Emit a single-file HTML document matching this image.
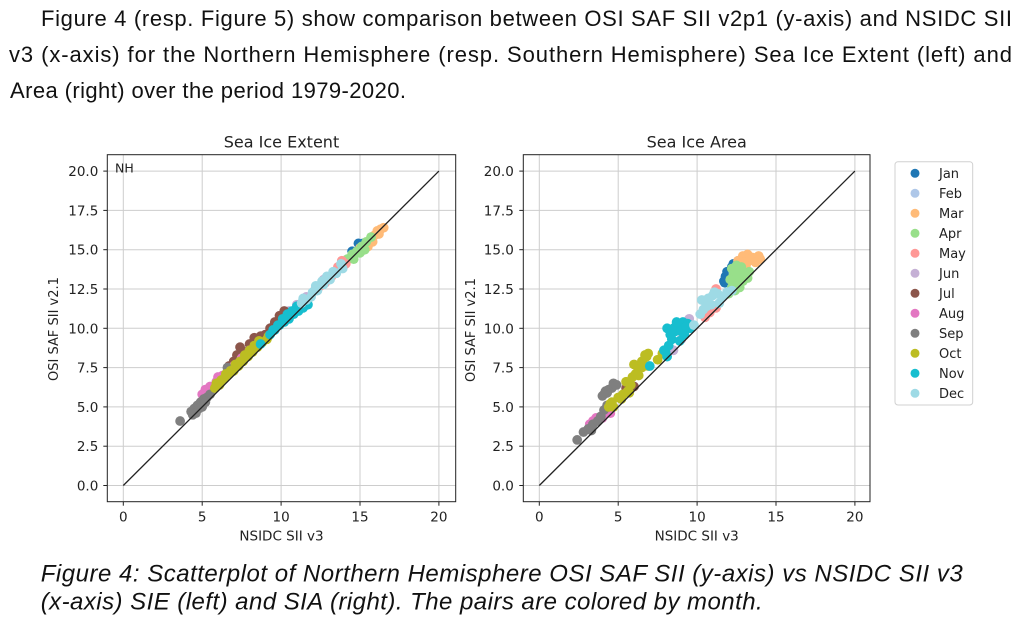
<!DOCTYPE html>
<html><head><meta charset="utf-8"><style>
html,body{margin:0;padding:0;background:#fff;}
svg{display:block;}
.p{font-family:"Liberation Sans",Arial,sans-serif;font-size:22px;fill:#111;}
.c{font-family:"Liberation Sans",Arial,sans-serif;font-size:24px;font-style:italic;fill:#111;}
.t{font-family:"DejaVu Sans",sans-serif;font-size:13.5px;fill:#222;}
.ti{font-family:"DejaVu Sans",sans-serif;font-size:16px;fill:#222;}
.lg{font-family:"DejaVu Sans",sans-serif;font-size:13px;fill:#222;}
.g line{stroke:#cdcdcd;stroke-width:1;}
.tk line{stroke:#222;stroke-width:1;}
circle{r:0.31px;}
</style></head><body>
<svg width="1022" height="621" viewBox="0 0 1022 621" xmlns="http://www.w3.org/2000/svg">
<rect width="1022" height="621" fill="#fff"/>
<text class="p" x="41" y="26" textLength="971">Figure 4 (resp. Figure 5) show comparison between OSI SAF SII v2p1 (y-axis) and NSIDC SII</text>
<text class="p" x="9" y="62" textLength="1003">v3 (x-axis) for the Northern Hemisphere (resp. Southern Hemisphere) Sea Ice Extent (left) and</text>
<text class="p" x="10" y="98" textLength="396">Area (right) over the period 1979-2020.</text>

<!-- ===== LEFT AXES ===== -->
<g class="g">
<line x1="123.3" y1="154.7" x2="123.3" y2="501.7"/><line x1="202.2" y1="154.7" x2="202.2" y2="501.7"/><line x1="281.1" y1="154.7" x2="281.1" y2="501.7"/><line x1="360" y1="154.7" x2="360" y2="501.7"/><line x1="438.9" y1="154.7" x2="438.9" y2="501.7"/>
<line x1="107.3" y1="485.5" x2="455.7" y2="485.5"/><line x1="107.3" y1="446.2" x2="455.7" y2="446.2"/><line x1="107.3" y1="406.9" x2="455.7" y2="406.9"/><line x1="107.3" y1="367.6" x2="455.7" y2="367.6"/><line x1="107.3" y1="328.3" x2="455.7" y2="328.3"/><line x1="107.3" y1="289" x2="455.7" y2="289"/><line x1="107.3" y1="249.7" x2="455.7" y2="249.7"/><line x1="107.3" y1="210.4" x2="455.7" y2="210.4"/><line x1="107.3" y1="171.1" x2="455.7" y2="171.1"/>
</g>
<g transform="matrix(15.78,0,0,-15.72,123.3,485.5)">
<g fill="#1f77b4"><circle cx="14.5" cy="14.9" r="0.31"/><circle cx="14.9" cy="15.4" r="0.31"/><circle cx="15.2" cy="15.4" r="0.31"/></g>
<g fill="#aec7e8"><circle cx="14.1" cy="14.3" r="0.31"/><circle cx="14.6" cy="14.6" r="0.31"/><circle cx="15" cy="15" r="0.31"/></g>
<g fill="#ffbb78"><circle cx="15" cy="15.1" r="0.31"/><circle cx="15.3" cy="15.3" r="0.31"/><circle cx="15.6" cy="15.6" r="0.31"/><circle cx="15.9" cy="15.9" r="0.31"/><circle cx="16.1" cy="16.2" r="0.31"/><circle cx="16.3" cy="16.3" r="0.31"/><circle cx="16.5" cy="16.4" r="0.31"/><circle cx="15.8" cy="15.5" r="0.31"/><circle cx="16.2" cy="16" r="0.31"/><circle cx="15.5" cy="15.2" r="0.31"/></g>
<g fill="#98df8a"><circle cx="14.2" cy="14.4" r="0.31"/><circle cx="14.5" cy="14.7" r="0.31"/><circle cx="14.8" cy="14.9" r="0.31"/><circle cx="15.1" cy="15.2" r="0.31"/><circle cx="15.4" cy="15.5" r="0.31"/><circle cx="15.7" cy="15.8" r="0.31"/><circle cx="15" cy="14.8" r="0.31"/><circle cx="15.3" cy="15" r="0.31"/><circle cx="14.6" cy="14.4" r="0.31"/></g>
<g fill="#ff9896"><circle cx="12.5" cy="12.7" r="0.31"/><circle cx="12.8" cy="12.9" r="0.31"/><circle cx="13.2" cy="13.3" r="0.31"/><circle cx="13.6" cy="13.9" r="0.31"/><circle cx="13.85" cy="14.3" r="0.31"/><circle cx="14.1" cy="14.1" r="0.31"/></g>
<g fill="#c5b0d5"><circle cx="10.5" cy="11.1" r="0.31"/><circle cx="11" cy="11.5" r="0.31"/><circle cx="11.6" cy="12" r="0.31"/><circle cx="12.2" cy="12.6" r="0.31"/><circle cx="12.7" cy="13.1" r="0.31"/></g>
<g fill="#8c564b"><circle cx="6.7" cy="7.6" r="0.31"/><circle cx="7" cy="7.9" r="0.31"/><circle cx="7.4" cy="8.8" r="0.31"/><circle cx="7.7" cy="8.5" r="0.31"/><circle cx="8" cy="9" r="0.31"/><circle cx="8.3" cy="9.4" r="0.31"/><circle cx="8.7" cy="9.5" r="0.31"/><circle cx="9" cy="9.6" r="0.31"/><circle cx="9.3" cy="10" r="0.31"/><circle cx="9.6" cy="10.4" r="0.31"/><circle cx="9.9" cy="10.8" r="0.31"/><circle cx="10.2" cy="11.1" r="0.31"/><circle cx="10.5" cy="11" r="0.31"/><circle cx="7.2" cy="8.3" r="0.31"/><circle cx="8.5" cy="9.2" r="0.31"/><circle cx="9.5" cy="10.1" r="0.31"/><circle cx="10" cy="10.5" r="0.31"/></g>
<g fill="#e377c2"><circle cx="5.2" cy="6.1" r="0.31"/><circle cx="5.5" cy="6.3" r="0.31"/><circle cx="5.9" cy="6.6" r="0.31"/><circle cx="6.3" cy="7" r="0.31"/><circle cx="6.7" cy="7.4" r="0.31"/><circle cx="7" cy="7.6" r="0.31"/><circle cx="7.5" cy="8.1" r="0.31"/><circle cx="8" cy="8.6" r="0.31"/><circle cx="5" cy="5.8" r="0.31"/><circle cx="6" cy="6.9" r="0.31"/></g>
<g fill="#7f7f7f"><circle cx="3.6" cy="4.1" r="0.31"/><circle cx="4.3" cy="4.7" r="0.31"/><circle cx="4.5" cy="4.9" r="0.31"/><circle cx="4.6" cy="4.6" r="0.31"/><circle cx="4.7" cy="5.1" r="0.31"/><circle cx="4.9" cy="5.3" r="0.31"/><circle cx="5" cy="5" r="0.31"/><circle cx="5.1" cy="5.5" r="0.31"/><circle cx="5.3" cy="5.6" r="0.31"/><circle cx="5.5" cy="5.8" r="0.31"/><circle cx="6.6" cy="7.5" r="0.31"/><circle cx="4.4" cy="4.5" r="0.31"/><circle cx="4.8" cy="4.9" r="0.31"/><circle cx="5.2" cy="5.3" r="0.31"/></g>
<g fill="#bcbd22"><circle cx="5.8" cy="6.2" r="0.31"/><circle cx="6.1" cy="6.4" r="0.31"/><circle cx="6.4" cy="6.8" r="0.31"/><circle cx="6.7" cy="7.1" r="0.31"/><circle cx="7" cy="7.3" r="0.31"/><circle cx="7.3" cy="7.6" r="0.31"/><circle cx="7.6" cy="7.9" r="0.31"/><circle cx="7.9" cy="8.2" r="0.31"/><circle cx="8.2" cy="8.5" r="0.31"/><circle cx="8.5" cy="8.8" r="0.31"/><circle cx="8.8" cy="9.1" r="0.31"/><circle cx="9.1" cy="9.3" r="0.31"/><circle cx="9.2" cy="9.5" r="0.31"/><circle cx="6.2" cy="6.7" r="0.31"/><circle cx="6.8" cy="7.3" r="0.31"/><circle cx="7.4" cy="7.9" r="0.31"/><circle cx="8" cy="8.6" r="0.31"/><circle cx="8.6" cy="9.2" r="0.31"/><circle cx="5.9" cy="6.5" r="0.31"/><circle cx="6.5" cy="7.1" r="0.31"/><circle cx="7.1" cy="7.7" r="0.31"/><circle cx="7.7" cy="8.3" r="0.31"/><circle cx="8.3" cy="8.9" r="0.31"/></g>
<g fill="#17becf"><circle cx="8.7" cy="9" r="0.31"/><circle cx="9.3" cy="9.6" r="0.31"/><circle cx="9.6" cy="9.9" r="0.31"/><circle cx="9.9" cy="10.2" r="0.31"/><circle cx="10.2" cy="10.4" r="0.31"/><circle cx="10.5" cy="10.6" r="0.31"/><circle cx="10.8" cy="10.9" r="0.31"/><circle cx="11.1" cy="11.1" r="0.31"/><circle cx="11.4" cy="11.3" r="0.31"/><circle cx="11.7" cy="11.5" r="0.31"/><circle cx="9.8" cy="10.2" r="0.31"/><circle cx="10.4" cy="10.9" r="0.31"/><circle cx="11" cy="11.4" r="0.31"/><circle cx="9.5" cy="9.9" r="0.31"/><circle cx="10.1" cy="10.6" r="0.31"/><circle cx="10.7" cy="11.1" r="0.31"/><circle cx="11.3" cy="11.6" r="0.31"/></g>
<g fill="#9edae5"><circle cx="11.3" cy="11.6" r="0.31"/><circle cx="11.6" cy="11.8" r="0.31"/><circle cx="11.9" cy="12" r="0.31"/><circle cx="12.3" cy="12.4" r="0.31"/><circle cx="12.7" cy="12.8" r="0.31"/><circle cx="13.1" cy="13.1" r="0.31"/><circle cx="13.5" cy="13.5" r="0.31"/><circle cx="13.9" cy="13.8" r="0.31"/><circle cx="12" cy="12.3" r="0.31"/><circle cx="12.6" cy="13" r="0.31"/><circle cx="13.3" cy="13.6" r="0.31"/><circle cx="13.8" cy="14.1" r="0.31"/><circle cx="11.4" cy="11.9" r="0.31"/><circle cx="12.2" cy="12.7" r="0.31"/><circle cx="12.9" cy="13.3" r="0.31"/></g>
<line x1="0" y1="0" x2="20" y2="20" stroke="#222" stroke-width="1.3" vector-effect="non-scaling-stroke"/>
</g>
<rect x="107.3" y="154.7" width="348.4" height="347" fill="none" stroke="#222" stroke-width="1"/>
<g class="tk">
<line x1="123.3" y1="501.7" x2="123.3" y2="505.7"/><line x1="202.2" y1="501.7" x2="202.2" y2="505.7"/><line x1="281.1" y1="501.7" x2="281.1" y2="505.7"/><line x1="360" y1="501.7" x2="360" y2="505.7"/><line x1="438.9" y1="501.7" x2="438.9" y2="505.7"/>
<line x1="103.3" y1="485.5" x2="107.3" y2="485.5"/><line x1="103.3" y1="446.2" x2="107.3" y2="446.2"/><line x1="103.3" y1="406.9" x2="107.3" y2="406.9"/><line x1="103.3" y1="367.6" x2="107.3" y2="367.6"/><line x1="103.3" y1="328.3" x2="107.3" y2="328.3"/><line x1="103.3" y1="289" x2="107.3" y2="289"/><line x1="103.3" y1="249.7" x2="107.3" y2="249.7"/><line x1="103.3" y1="210.4" x2="107.3" y2="210.4"/><line x1="103.3" y1="171.1" x2="107.3" y2="171.1"/>
</g>
<g class="t" text-anchor="end">
<text x="98.3" y="490.5">0.0</text><text x="98.3" y="451.2">2.5</text><text x="98.3" y="411.9">5.0</text><text x="98.3" y="372.6">7.5</text><text x="98.3" y="333.3">10.0</text><text x="98.3" y="294">12.5</text><text x="98.3" y="254.7">15.0</text><text x="98.3" y="215.4">17.5</text><text x="98.3" y="176.1">20.0</text>
</g>
<g class="t" text-anchor="middle">
<text x="123.3" y="521.7">0</text><text x="202.2" y="521.7">5</text><text x="281.1" y="521.7">10</text><text x="360" y="521.7">15</text><text x="438.9" y="521.7">20</text>
<text x="281.5" y="540.5">NSIDC SII v3</text>
</g>
<text class="t" transform="translate(58,329) rotate(-90)" text-anchor="middle" style="font-size:13px">OSI SAF SII v2.1</text>
<text class="ti" x="281.5" y="147.3" text-anchor="middle">Sea Ice Extent</text>
<text class="t" x="115" y="172.3" style="font-size:12.5px">NH</text>

<!-- ===== RIGHT AXES ===== -->
<g class="g">
<line x1="539.3" y1="154.7" x2="539.3" y2="501.7"/><line x1="618.2" y1="154.7" x2="618.2" y2="501.7"/><line x1="697.1" y1="154.7" x2="697.1" y2="501.7"/><line x1="776" y1="154.7" x2="776" y2="501.7"/><line x1="854.9" y1="154.7" x2="854.9" y2="501.7"/>
<line x1="523.3" y1="485.5" x2="870" y2="485.5"/><line x1="523.3" y1="446.2" x2="870" y2="446.2"/><line x1="523.3" y1="406.9" x2="870" y2="406.9"/><line x1="523.3" y1="367.6" x2="870" y2="367.6"/><line x1="523.3" y1="328.3" x2="870" y2="328.3"/><line x1="523.3" y1="289" x2="870" y2="289"/><line x1="523.3" y1="249.7" x2="870" y2="249.7"/><line x1="523.3" y1="210.4" x2="870" y2="210.4"/><line x1="523.3" y1="171.1" x2="870" y2="171.1"/>
</g>
<g transform="matrix(15.78,0,0,-15.72,539.3,485.5)">
<g fill="#1f77b4"><circle cx="11.7" cy="13" r="0.31"/><circle cx="11.8" cy="13.3" r="0.31"/><circle cx="11.9" cy="13.6" r="0.31"/><circle cx="12" cy="13.1" r="0.31"/><circle cx="12.2" cy="13.9" r="0.31"/><circle cx="12.3" cy="14.1" r="0.31"/><circle cx="11.75" cy="12.9" r="0.31"/></g>
<g fill="#aec7e8"><circle cx="12.6" cy="14.3" r="0.31"/><circle cx="13" cy="14.5" r="0.31"/><circle cx="12.3" cy="13.6" r="0.31"/></g>
<g fill="#ffbb78"><circle cx="12.6" cy="14.3" r="0.31"/><circle cx="12.9" cy="14.6" r="0.31"/><circle cx="13.2" cy="14.7" r="0.31"/><circle cx="13.5" cy="14.5" r="0.31"/><circle cx="13.9" cy="14.6" r="0.31"/><circle cx="14" cy="14.4" r="0.31"/><circle cx="13.3" cy="14.3" r="0.31"/><circle cx="12.9" cy="14.2" r="0.31"/><circle cx="13.1" cy="14" r="0.31"/><circle cx="13.7" cy="14.2" r="0.31"/></g>
<g fill="#98df8a"><circle cx="12.2" cy="13.8" r="0.31"/><circle cx="12.5" cy="14" r="0.31"/><circle cx="12.8" cy="13.9" r="0.31"/><circle cx="12.3" cy="13.4" r="0.31"/><circle cx="12.6" cy="13.2" r="0.31"/><circle cx="13" cy="13.5" r="0.31"/><circle cx="12.4" cy="12.8" r="0.31"/><circle cx="12.7" cy="12.6" r="0.31"/><circle cx="12.4" cy="12.4" r="0.31"/><circle cx="13.2" cy="13.2" r="0.31"/><circle cx="12.9" cy="13" r="0.31"/><circle cx="12.1" cy="13.1" r="0.31"/><circle cx="12.6" cy="13.7" r="0.31"/><circle cx="13.3" cy="13.6" r="0.31"/><circle cx="12.2" cy="12.6" r="0.31"/><circle cx="12" cy="12.2" r="0.31"/></g>
<g fill="#ff9896"><circle cx="11.2" cy="12.5" r="0.31"/><circle cx="10.8" cy="11" r="0.31"/><circle cx="11.2" cy="11.3" r="0.31"/><circle cx="10.5" cy="10.7" r="0.31"/></g>
<g fill="#c5b0d5"><circle cx="9.5" cy="10.6" r="0.31"/><circle cx="8.5" cy="8.6" r="0.31"/><circle cx="9" cy="9.3" r="0.31"/></g>
<g fill="#8c564b"><circle cx="5.5" cy="6.2" r="0.31"/><circle cx="6" cy="6.3" r="0.31"/><circle cx="6.5" cy="7.8" r="0.31"/></g>
<g fill="#e377c2"><circle cx="3.2" cy="3.9" r="0.31"/><circle cx="3.6" cy="4.3" r="0.31"/><circle cx="4" cy="4.3" r="0.31"/><circle cx="4.5" cy="4.6" r="0.31"/><circle cx="3.4" cy="4.1" r="0.31"/></g>
<g fill="#7f7f7f"><circle cx="2.4" cy="2.9" r="0.31"/><circle cx="2.8" cy="3.4" r="0.31"/><circle cx="3.1" cy="3.6" r="0.31"/><circle cx="3.4" cy="3.9" r="0.31"/><circle cx="3.7" cy="4.1" r="0.31"/><circle cx="3.9" cy="4.4" r="0.31"/><circle cx="4.1" cy="4.8" r="0.31"/><circle cx="4.3" cy="5.1" r="0.31"/><circle cx="4" cy="5.7" r="0.31"/><circle cx="4.2" cy="6" r="0.31"/><circle cx="4.4" cy="6.1" r="0.31"/><circle cx="4.6" cy="6.2" r="0.31"/><circle cx="4.7" cy="6.5" r="0.31"/><circle cx="4.9" cy="6.4" r="0.31"/><circle cx="4.3" cy="5.9" r="0.31"/><circle cx="4.1" cy="5.8" r="0.31"/><circle cx="3.3" cy="3.5" r="0.31"/></g>
<g fill="#bcbd22"><circle cx="4.4" cy="5" r="0.31"/><circle cx="4.7" cy="5" r="0.31"/><circle cx="4.5" cy="5.2" r="0.31"/><circle cx="5" cy="5.6" r="0.31"/><circle cx="5.3" cy="5.8" r="0.31"/><circle cx="5.6" cy="6" r="0.31"/><circle cx="5.8" cy="6.4" r="0.31"/><circle cx="5.9" cy="6.9" r="0.31"/><circle cx="6.1" cy="7.1" r="0.31"/><circle cx="6.2" cy="7.6" r="0.31"/><circle cx="6" cy="7.7" r="0.31"/><circle cx="6.5" cy="7.9" r="0.31"/><circle cx="6.8" cy="8.2" r="0.31"/><circle cx="6.9" cy="8.4" r="0.31"/><circle cx="6.5" cy="7.5" r="0.31"/><circle cx="6.9" cy="7.6" r="0.31"/><circle cx="7.5" cy="8" r="0.31"/><circle cx="7.8" cy="8.4" r="0.31"/><circle cx="5.5" cy="6.6" r="0.31"/><circle cx="6.3" cy="7" r="0.31"/><circle cx="5.2" cy="5.5" r="0.31"/><circle cx="4.6" cy="5.3" r="0.31"/><circle cx="6.7" cy="8.3" r="0.31"/><circle cx="5.7" cy="5.9" r="0.31"/></g>
<g fill="#17becf"><circle cx="7" cy="7.6" r="0.31"/><circle cx="8" cy="8.5" r="0.31"/><circle cx="8.2" cy="8.9" r="0.31"/><circle cx="8.4" cy="9.3" r="0.31"/><circle cx="8.6" cy="9.8" r="0.31"/><circle cx="8.5" cy="10" r="0.31"/><circle cx="8.8" cy="10.2" r="0.31"/><circle cx="9.1" cy="10.4" r="0.31"/><circle cx="9.4" cy="10.3" r="0.31"/><circle cx="9.6" cy="10" r="0.31"/><circle cx="9.2" cy="9.6" r="0.31"/><circle cx="8.9" cy="9.2" r="0.31"/><circle cx="9" cy="9.8" r="0.31"/><circle cx="8.3" cy="9.6" r="0.31"/><circle cx="8.1" cy="10" r="0.31"/><circle cx="8.4" cy="9.9" r="0.31"/><circle cx="8.7" cy="10.4" r="0.31"/><circle cx="9.3" cy="10.1" r="0.31"/><circle cx="7.9" cy="8.6" r="0.31"/><circle cx="8.1" cy="8.2" r="0.31"/></g>
<g fill="#9edae5"><circle cx="9.8" cy="10.2" r="0.31"/><circle cx="10.2" cy="10.9" r="0.31"/><circle cx="10.4" cy="11.2" r="0.31"/><circle cx="10.5" cy="11.7" r="0.31"/><circle cx="10.7" cy="11.9" r="0.31"/><circle cx="11" cy="12.1" r="0.31"/><circle cx="11.3" cy="12.2" r="0.31"/><circle cx="11.6" cy="12" r="0.31"/><circle cx="11.9" cy="12.3" r="0.31"/><circle cx="12.2" cy="12.4" r="0.31"/><circle cx="10.9" cy="11.5" r="0.31"/><circle cx="11.4" cy="11.6" r="0.31"/><circle cx="10.3" cy="11.8" r="0.31"/><circle cx="10.6" cy="11.4" r="0.31"/><circle cx="11.1" cy="12.3" r="0.31"/></g>
<line x1="0" y1="0" x2="20" y2="20" stroke="#222" stroke-width="1.3" vector-effect="non-scaling-stroke"/>
</g>
<rect x="523.3" y="154.7" width="346.7" height="347" fill="none" stroke="#222" stroke-width="1"/>
<g class="tk">
<line x1="539.3" y1="501.7" x2="539.3" y2="505.7"/><line x1="618.2" y1="501.7" x2="618.2" y2="505.7"/><line x1="697.1" y1="501.7" x2="697.1" y2="505.7"/><line x1="776" y1="501.7" x2="776" y2="505.7"/><line x1="854.9" y1="501.7" x2="854.9" y2="505.7"/>
<line x1="519.3" y1="485.5" x2="523.3" y2="485.5"/><line x1="519.3" y1="446.2" x2="523.3" y2="446.2"/><line x1="519.3" y1="406.9" x2="523.3" y2="406.9"/><line x1="519.3" y1="367.6" x2="523.3" y2="367.6"/><line x1="519.3" y1="328.3" x2="523.3" y2="328.3"/><line x1="519.3" y1="289" x2="523.3" y2="289"/><line x1="519.3" y1="249.7" x2="523.3" y2="249.7"/><line x1="519.3" y1="210.4" x2="523.3" y2="210.4"/><line x1="519.3" y1="171.1" x2="523.3" y2="171.1"/>
</g>
<g class="t" text-anchor="end">
<text x="513.8" y="490.5">0.0</text><text x="513.8" y="451.2">2.5</text><text x="513.8" y="411.9">5.0</text><text x="513.8" y="372.6">7.5</text><text x="513.8" y="333.3">10.0</text><text x="513.8" y="294">12.5</text><text x="513.8" y="254.7">15.0</text><text x="513.8" y="215.4">17.5</text><text x="513.8" y="176.1">20.0</text>
</g>
<g class="t" text-anchor="middle">
<text x="539.3" y="521.7">0</text><text x="618.2" y="521.7">5</text><text x="697.1" y="521.7">10</text><text x="776" y="521.7">15</text><text x="854.9" y="521.7">20</text>
<text x="696.7" y="540.5">NSIDC SII v3</text>
</g>
<text class="t" transform="translate(475,330) rotate(-90)" text-anchor="middle" style="font-size:13px">OSI SAF SII v2.1</text>
<text class="ti" x="696.7" y="147.3" text-anchor="middle">Sea Ice Area</text>

<!-- legend -->
<rect x="895" y="161.7" width="77.7" height="243.3" rx="3" fill="#fff" stroke="#d0d0d0" stroke-width="1"/>
<g>
<circle cx="915" cy="173.3" r="4.5" style="r:4.5px" fill="#1f77b4"/><circle cx="915" cy="193.3" r="4.5" style="r:4.5px" fill="#aec7e8"/><circle cx="915" cy="213.3" r="4.5" style="r:4.5px" fill="#ffbb78"/><circle cx="915" cy="233.3" r="4.5" style="r:4.5px" fill="#98df8a"/><circle cx="915" cy="253.3" r="4.5" style="r:4.5px" fill="#ff9896"/><circle cx="915" cy="273.3" r="4.5" style="r:4.5px" fill="#c5b0d5"/><circle cx="915" cy="293.3" r="4.5" style="r:4.5px" fill="#8c564b"/><circle cx="915" cy="313.3" r="4.5" style="r:4.5px" fill="#e377c2"/><circle cx="915" cy="333.3" r="4.5" style="r:4.5px" fill="#7f7f7f"/><circle cx="915" cy="353.3" r="4.5" style="r:4.5px" fill="#bcbd22"/><circle cx="915" cy="373.3" r="4.5" style="r:4.5px" fill="#17becf"/><circle cx="915" cy="393.3" r="4.5" style="r:4.5px" fill="#9edae5"/>
</g>
<g class="lg">
<text x="939" y="178">Jan</text><text x="939" y="198">Feb</text><text x="939" y="218">Mar</text><text x="939" y="238">Apr</text><text x="939" y="258">May</text><text x="939" y="278">Jun</text><text x="939" y="298">Jul</text><text x="939" y="318">Aug</text><text x="939" y="338">Sep</text><text x="939" y="358">Oct</text><text x="939" y="378">Nov</text><text x="939" y="398">Dec</text>
</g>

<text class="c" x="40.7" y="581.7" textLength="922">Figure 4: Scatterplot of Northern Hemisphere OSI SAF SII (y-axis) vs NSIDC SII v3</text>
<text class="c" x="40.7" y="609.3" textLength="722">(x-axis) SIE (left) and SIA (right). The pairs are colored by month.</text>
</svg>
</body></html>
